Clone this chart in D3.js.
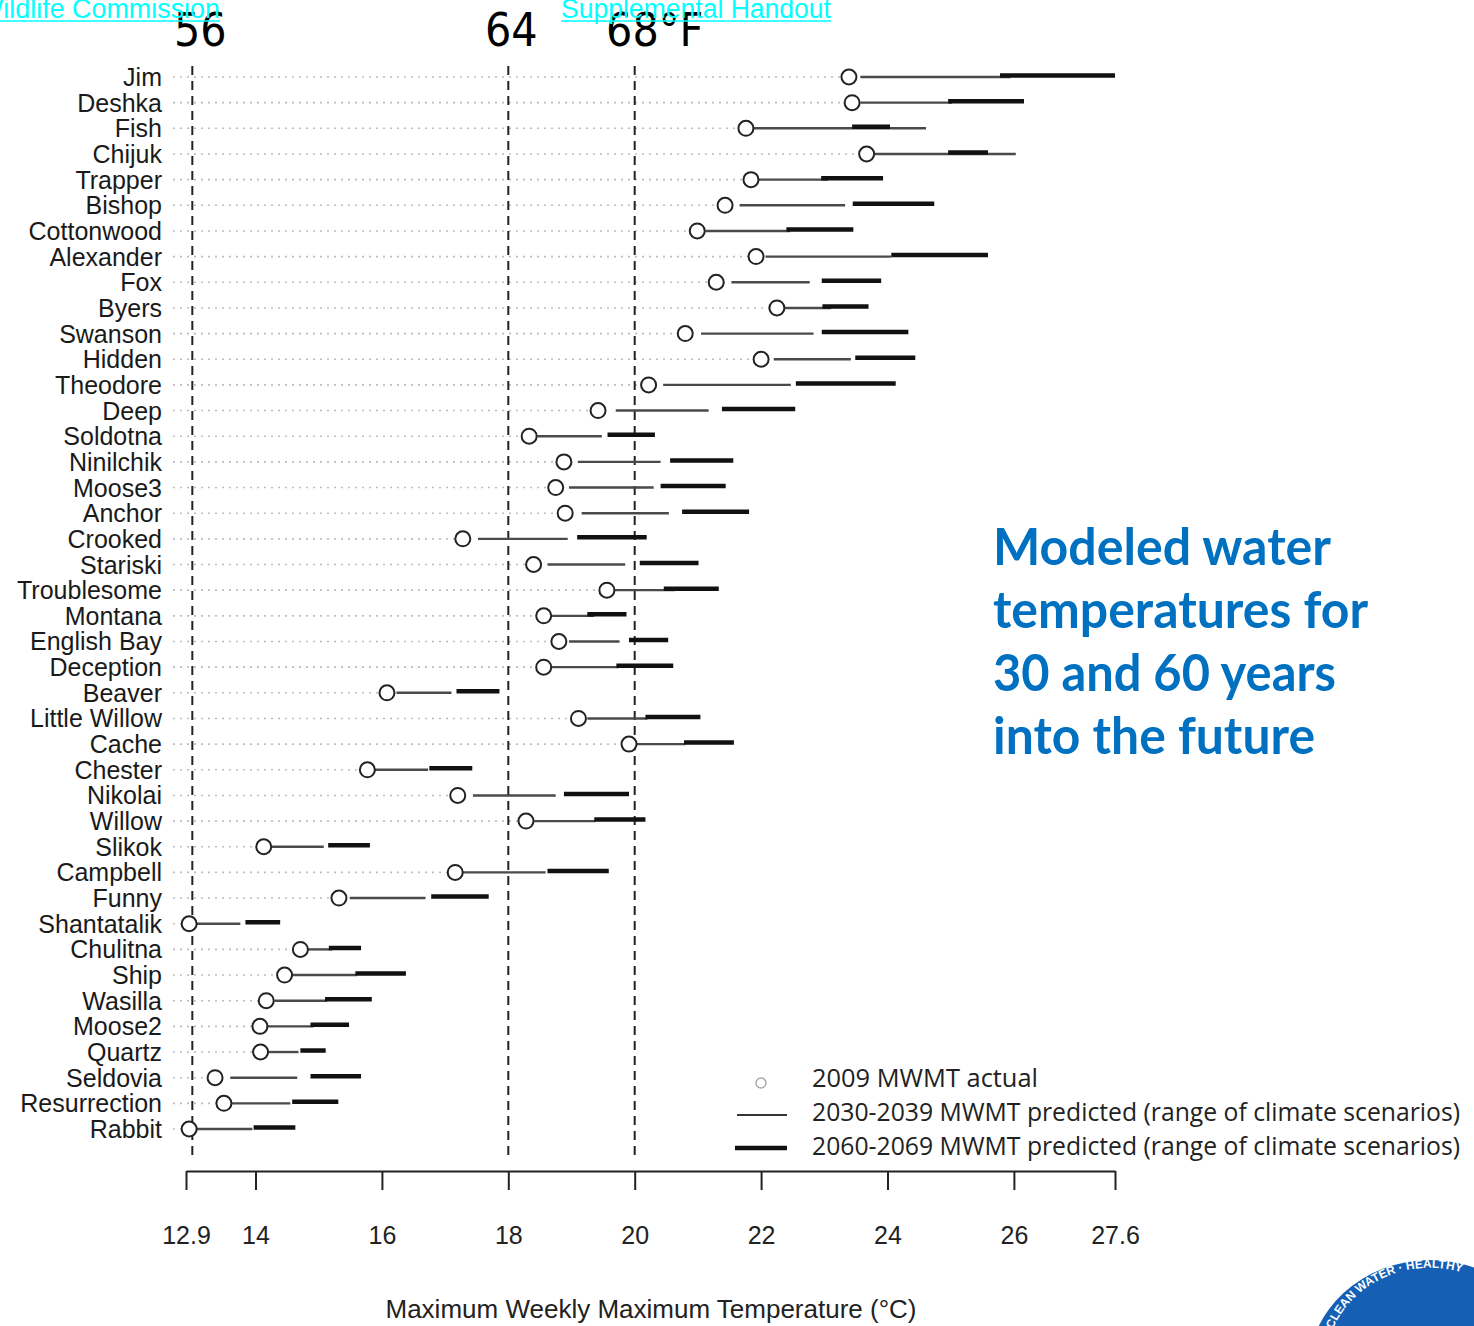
<!DOCTYPE html>
<html>
<head>
<meta charset="utf-8">
<script src="https://cdn.jsdelivr.net/npm/d3@7"></script>
<style>
  body { margin: 0; background: #fff; }
  svg { display: block; }
</style>
</head>
<body>
<div id="chart"></div>
<script>
// stream sites, top to bottom
const sites = ["Jim","Deshka","Fish","Chijuk","Trapper","Bishop","Cottonwood","Alexander","Fox","Byers",
  "Swanson","Hidden","Theodore","Deep","Soldotna","Ninilchik","Moose3","Anchor","Crooked","Stariski",
  "Troublesome","Montana","English Bay","Deception","Beaver","Little Willow","Cache","Chester","Nikolai","Willow",
  "Slikok","Campbell","Funny","Shantatalik","Chulitna","Ship","Wasilla","Moose2","Quartz","Seldovia",
  "Resurrection","Rabbit"];

// 2009 MWMT actual (°C)
const actual2009 = [23.39,23.44,21.76,23.67,21.84,21.43,20.99,21.92,21.29,22.25,
  20.80,22.00,20.22,19.42,18.33,18.88,18.75,18.90,17.28,18.40,
  19.56,18.56,18.80,18.56,16.08,19.11,19.91,15.77,17.20,18.28,
  14.13,17.16,15.32,12.95,14.71,14.46,14.17,14.07,14.08,13.36,
  13.50,12.95];

// 2030-2039 predicted range
const low2030 = [23.57,23.57,21.88,23.79,21.96,21.66,21.12,22.07,21.53,22.37,
  21.05,22.20,20.45,19.70,18.46,19.10,18.96,19.16,17.52,18.62,
  19.67,18.67,18.96,18.67,16.23,19.25,20.02,15.89,17.44,18.41,
  14.26,17.28,15.49,13.05,14.83,14.58,14.30,14.18,14.20,13.60,
  13.61,13.05];
const high2030 = [25.95,25.02,24.61,26.03,23.06,23.33,22.46,24.06,22.77,23.11,
  22.83,23.42,22.47,21.17,19.48,20.41,20.30,20.54,18.94,19.85,
  20.64,19.36,19.76,19.75,17.10,20.20,20.80,16.73,18.75,19.38,
  15.08,18.59,16.69,13.76,15.21,15.60,15.13,14.92,14.68,14.66,
  14.55,13.95];

// 2060-2069 predicted range
const low2060 = [25.78,24.96,23.44,24.96,22.95,23.45,22.40,24.06,22.96,22.97,
  22.96,23.49,22.55,21.38,19.57,20.56,20.41,20.75,19.09,20.08,
  20.46,19.25,19.91,19.71,17.18,20.17,20.78,16.75,18.88,19.36,
  15.15,18.62,16.78,13.84,15.16,15.58,15.10,14.87,14.71,14.87,
  14.58,13.97];
const high2060 = [27.60,26.16,24.04,25.59,23.93,24.74,23.46,25.59,23.90,23.70,
  24.33,24.44,24.13,22.54,20.32,21.56,21.44,21.81,20.19,21.01,
  21.33,19.87,20.53,20.61,17.86,21.04,21.57,17.43,19.91,20.17,
  15.81,19.59,17.69,14.39,15.67,16.38,15.84,15.48,15.11,15.67,
  15.31,14.63];

const tickVals = [12.9, 14, 16, 18, 20, 22, 24, 26, 27.6];
const refLines = [13, 18, 20];            // dashed reference temps (°C)
const refLabels = ["56", "64", "68°F"];
const titleLines = ["Modeled water", "temperatures for", "30 and 60 years", "into the future"];
const legendLabels = ["2009 MWMT actual",
  "2030-2039  MWMT predicted (range of climate scenarios)",
  "2060-2069  MWMT predicted (range of climate scenarios)"];

const w = 1474, h = 1326;
const axisY = 1171;

const rows = sites.map((s, i) => ({
  site: s, actual: actual2009[i],
  a1: low2030[i], a2: high2030[i], b1: low2060[i], b2: high2060[i]
}));

const x = d3.scaleLinear().domain([12.9, 27.6]).range([186, 1115]);
const y = d3.scalePoint().domain(sites).range([77, 1129]);

const svg = d3.select("#chart").append("svg")
  .attr("width", w).attr("height", h)
  .style("font-family", "'Liberation Sans', Arial, sans-serif");

// dotted guide lines up to the circle
svg.append("g").selectAll("line").data(rows).enter().append("line")
  .attr("x1", 173).attr("x2", d => x(d.actual) - 8)
  .attr("y1", d => y(d.site)).attr("y2", d => y(d.site))
  .attr("stroke", "#bdbdbd").attr("stroke-width", 1.6)
  .attr("stroke-dasharray", "2,5");

// dashed reference lines
svg.append("g").selectAll("line").data(refLines).enter().append("line")
  .attr("x1", d => x(d)).attr("x2", d => x(d))
  .attr("y1", 66).attr("y2", 1158)
  .attr("stroke", "#222").attr("stroke-width", 2)
  .attr("stroke-dasharray", "9,6");

svg.append("g").selectAll("text").data(refLines).enter().append("text")
  .attr("x", (d, i) => x(d) + [8, 3, 20][i])
  .attr("y", 46)
  .attr("text-anchor", "middle")
  .style("font-size", "46px")
  .style("font-stretch", "condensed")
  .style("font-family", "'Liberation Sans Narrow', 'DejaVu Sans', sans-serif")
  .attr("fill", "#000")
  .text((d, i) => refLabels[i]);

// 2030s thin range
svg.append("g").selectAll("line").data(rows).enter().append("line")
  .attr("x1", d => x(d.a1)).attr("x2", d => x(d.a2))
  .attr("y1", d => y(d.site)).attr("y2", d => y(d.site))
  .attr("stroke", "#4a4a4a").attr("stroke-width", 2.4);

// 2060s thick range
svg.append("g").selectAll("line").data(rows).enter().append("line")
  .attr("x1", d => x(d.b1)).attr("x2", d => x(d.b2))
  .attr("y1", d => y(d.site) - 1.5).attr("y2", d => y(d.site) - 1.5)
  .attr("stroke", "#111").attr("stroke-width", 4.5);

// 2009 actual
svg.append("g").selectAll("circle").data(rows).enter().append("circle")
  .attr("cx", d => x(d.actual)).attr("cy", d => y(d.site))
  .attr("r", 7.5)
  .attr("fill", "#fff").attr("stroke", "#222").attr("stroke-width", 2);

// site labels
svg.append("g").selectAll("text").data(rows).enter().append("text")
  .attr("x", 162).attr("y", d => y(d.site))
  .attr("dy", "0.36em")
  .attr("text-anchor", "end")
  .style("font-size", "25px")
  .attr("fill", "#1a1a1a")
  .text(d => d.site);

// x axis
const xAxis = d3.axisBottom(x)
  .tickValues(tickVals)
  .tickSize(19)
  .tickSizeOuter(0)
  .tickPadding(36)
  .tickFormat(d => String(d));

const gx = svg.append("g")
  .attr("transform", "translate(0," + axisY + ")")
  .call(xAxis);
gx.select(".domain").attr("stroke", "#222").attr("stroke-width", 2);
gx.selectAll(".tick line").attr("stroke", "#222").attr("stroke-width", 2);
gx.selectAll(".tick text")
  .style("font-size", "25px")
  .style("font-family", "'Liberation Sans', Arial, sans-serif")
  .attr("fill", "#222");

svg.append("text")
  .attr("x", 651).attr("y", 1318)
  .attr("text-anchor", "middle")
  .style("font-size", "26px")
  .attr("fill", "#222")
  .text("Maximum Weekly Maximum Temperature (°C)");

// legend
const lg = svg.append("g");
lg.append("circle").attr("cx", 761).attr("cy", 1083).attr("r", 5)
  .attr("fill", "none").attr("stroke", "#aaa").attr("stroke-width", 1.5);
lg.append("line").attr("x1", 737).attr("x2", 787).attr("y1", 1115).attr("y2", 1115)
  .attr("stroke", "#333").attr("stroke-width", 2);
lg.append("line").attr("x1", 735).attr("x2", 787).attr("y1", 1148).attr("y2", 1148)
  .attr("stroke", "#111").attr("stroke-width", 4.5);
const legendW = [226, 648, 648];
lg.selectAll("text").data(legendLabels).enter().append("text")
  .attr("x", 812).attr("y", (d, i) => 1079 + i * 34)
  .attr("dy", "0.3em")
  .attr("textLength", (d, i) => legendW[i])
  .attr("lengthAdjust", "spacingAndGlyphs")
  .style("font-size", "25px")
  .style("font-family", "'Open Sans', sans-serif")
  .attr("fill", "#222")
  .text(d => d);

// blue heading
const titleW = [338, 375, 343, 322];
svg.append("g").selectAll("text").data(titleLines).enter().append("text")
  .attr("x", 993).attr("y", (d, i) => 565 + i * 63)
  .attr("textLength", (d, i) => titleW[i])
  .attr("lengthAdjust", "spacingAndGlyphs")
  .style("font-size", "52px")
  .style("font-weight", "bold")
  .style("font-family", "Lato, 'Open Sans', sans-serif")
  .attr("fill", "#0070c0")
  .text(d => d);

// cyan link texts at top
const links = [{t: "Wildlife Commission", x: -22, len: 242}, {t: "Supplemental Handout", x: 561, len: 270}];
const lk = svg.append("g").selectAll("g").data(links).enter().append("g");
lk.append("text")
  .attr("x", d => d.x).attr("y", 18)
  .attr("textLength", d => d.len)
  .attr("lengthAdjust", "spacingAndGlyphs")
  .style("font-size", "27px")
  .attr("fill", "#00ffff")
  .text(d => d.t);
lk.append("line")
  .attr("x1", d => d.x).attr("x2", d => d.x + d.len)
  .attr("y1", 21).attr("y2", 21)
  .attr("stroke", "#00ffff").attr("stroke-width", 1.5);

// partial logo, bottom right
const logo = svg.append("g");
logo.append("ellipse").attr("cx", 1430).attr("cy", 1372).attr("rx", 122).attr("ry", 112)
  .attr("fill", "#1560b4");
logo.append("path").attr("id", "logoArc")
  .attr("d", "M1328,1345 A104,96 0 0 1 1532,1345")
  .attr("fill", "none");
logo.append("text")
  .style("font-size", "12px").style("font-weight", "bold")
  .attr("fill", "#fff")
  .append("textPath").attr("href", "#logoArc").attr("startOffset", "6%")
  .text("CLEAN WATER · HEALTHY");
</script>
</body>
</html>
